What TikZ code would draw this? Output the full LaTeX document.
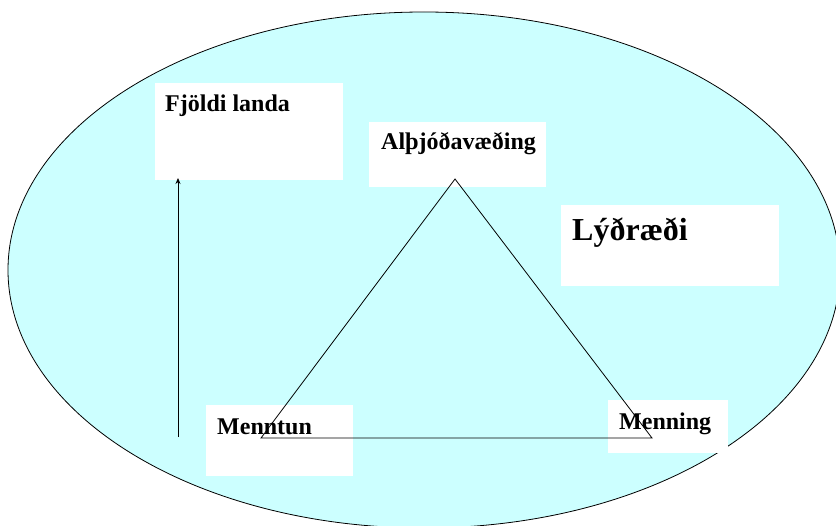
\documentclass[tikz,border=0pt]{standalone}
\usepackage{fontspec}
\setmainfont{Liberation Serif}
\usetikzlibrary{arrows.meta}
\definecolor{bgcyan}{RGB}{204,255,255}
\tikzset{
  whitebox/.style={fill=white, draw=none, inner sep=0pt, anchor=north west},
  lbl/.style={anchor=base west, inner sep=0pt, font=\bfseries\fontsize{24bp}{28bp}\selectfont},
  biglbl/.style={anchor=base west, inner sep=0pt, font=\bfseries\fontsize{32bp}{36bp}\selectfont},
  thinline/.style={draw=black, line width=0.8bp},
}
\begin{document}
\begin{tikzpicture}[x=1bp,y=-1bp]
\useasboundingbox (0,0) rectangle (836,526);
\begin{scope}
\clip (0,0) rectangle (836,526);
\path[fill=bgcyan, draw=black, line width=0.8bp] (424,270) ellipse [x radius=416, y radius=258];
\end{scope}
% white boxes
\node[whitebox, minimum width=188bp, minimum height=97bp] (boxF) at (155,83) {};
\node[whitebox, minimum width=177bp, minimum height=65bp] (boxA) at (369,122) {};
\node[whitebox, minimum width=218bp, minimum height=81bp] (boxL) at (561,205) {};
\node[whitebox, minimum width=147bp, minimum height=71bp] (boxMt) at (206,405) {};
\node[whitebox, minimum width=120bp, minimum height=53bp] (boxMn) at (608,400) {};
% labels
\node[lbl] (tF) at (165,112) {Fjöldi landa};
\node[lbl] (tA) at (381,150) {Alþjóðavæðing};
\node[biglbl] (tL) at (572,241) {Lýðræði};
\node[lbl] (tMt) at (217,434) {Menntun};
\node[lbl] (tMn) at (619,429) {Menning};
% triangle
\coordinate (apex) at (455,179);
\coordinate (bl) at (261,438);
\coordinate (br) at (652,438);
\draw[thinline] (apex) -- (bl) -- (br) -- cycle;
% arrow
\coordinate (arrStart) at (178,437);
\coordinate (arrEnd) at (178,178);
\draw[thinline, -{Stealth[length=6bp, width=5bp]}] (arrStart) -- (arrEnd);
\end{tikzpicture}
\end{document}
